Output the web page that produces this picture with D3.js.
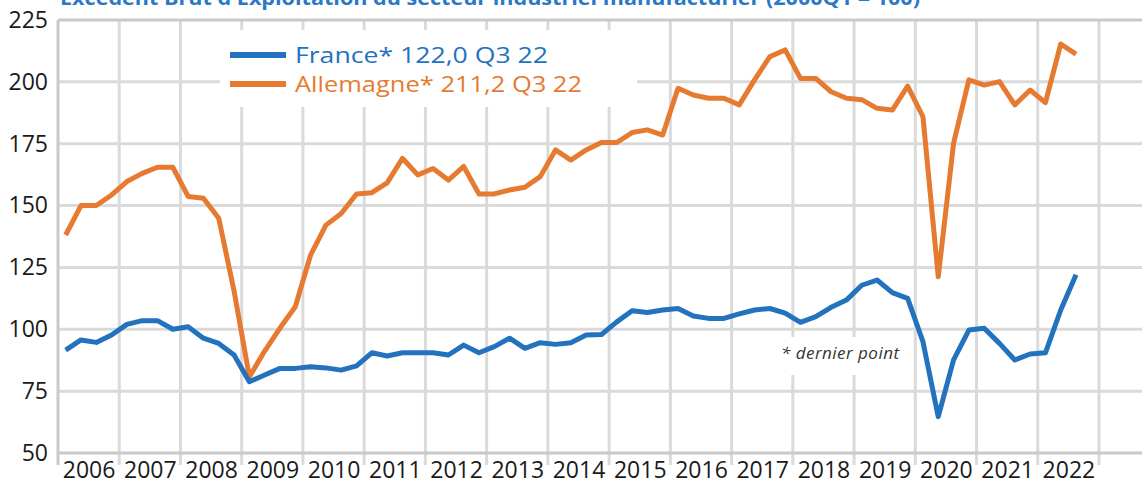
<!DOCTYPE html>
<html>
<head>
<meta charset="utf-8">
<script src="https://cdn.jsdelivr.net/npm/d3@7"></script>
<style>
  html, body { margin: 0; padding: 0; background: #fff; }
  #chart { width: 1142px; height: 490px; }
  text { font-family: "Open Sans", "Noto Sans", sans-serif; }
</style>
</head>
<body>
<div id="chart"></div>
<script>
/*
 *  DATA (quarterly, first point = 2006Q1, last = 2022Q3)
 */
var title = "Excédent Brut d'Exploitation du secteur industriel manufacturier (2000Q1 = 100)";
var years = [2006, 2007, 2008, 2009, 2010, 2011, 2012, 2013, 2014, 2015, 2016, 2017, 2018, 2019, 2020, 2021, 2022];
var yTicks = [50, 75, 100, 125, 150, 175, 200, 225];

var france = [
  91.6, 95.7, 94.7, 97.7, 102.0, 103.5, 103.5, 100.0,
  101.0, 96.4, 94.3, 89.6, 78.8, 81.5, 84.2, 84.2,
  84.9, 84.4, 83.5, 85.2, 90.5, 89.2, 90.5, 90.5,
  90.5, 89.6, 93.6, 90.5, 93.0, 96.4, 92.3, 94.6,
  93.9, 94.6, 97.7, 97.9, 103.0, 107.5, 106.8, 107.8,
  108.4, 105.4, 104.4, 104.4, 106.2, 107.8, 108.4, 106.5,
  102.8, 105.1, 108.9, 111.8, 117.8, 119.9, 114.8, 112.5,
  95.0, 64.7, 87.6, 99.7, 100.4, 94.3, 87.6, 90.0,
  90.5, 107.8, 122.0
];
var allemagne = [
  138.1, 150.0, 150.0, 154.3, 159.7, 163.0, 165.5, 165.5,
  153.7, 153.0, 144.9, 115.5, 80.8, 91.2, 100.5, 109.1,
  130.0, 142.1, 146.8, 154.7, 155.2, 159.2, 169.1, 162.4,
  165.0, 160.3, 165.8, 154.7, 154.7, 156.3, 157.4, 161.7,
  172.5, 168.4, 172.5, 175.5, 175.5, 179.5, 180.6, 178.5,
  197.4, 194.7, 193.4, 193.4, 190.7, 200.8, 210.2, 212.9,
  201.4, 201.4, 196.0, 193.4, 192.8, 189.3, 188.6, 198.3,
  185.9, 121.2, 175.2, 200.8, 198.7, 200.1, 190.7, 196.7,
  191.6, 215.3, 211.2
];
var legendLabels = ["France* 122,0 Q3 22", "Allemagne* 211,2 Q3 22"];
var note = "* dernier point";

/*
 *  LAYOUT
 */
var view_width = 1142, view_height = 490;
var plot = {left: 58, right: 1099, top: 20, bottom: 453};
var blue = "#2372be", orange = "#e67a30", grid = "#dadada", axisCol = "#c9c9cd";

var x_scale = d3.scaleLinear()
    .domain([2006, 2023])
    .range([plot.left, plot.right]);
var y_scale = d3.scaleLinear()
    .domain([50, 225])
    .range([plot.bottom, plot.top]);

function qx(i) { return x_scale(2006 + (i + 0.5) / 4); }

var svg = d3.select("#chart")
    .append("svg")
        .attr("width", view_width)
        .attr("height", view_height);

// title, mostly cut off by the top edge (as in the source image)
svg.append("text")
    .attr("x", 60)
    .attr("y", 5)
    .attr("fill", "#2a78c6")
    .attr("font-weight", "bold")
    .attr("font-size", 19)
    .attr("textLength", 860)
    .attr("lengthAdjust", "spacingAndGlyphs")
    .text(title);

// horizontal gridlines
svg.append("g")
    .selectAll("line")
    .data(yTicks.slice(1, -1))
    .enter().append("line")
        .attr("x1", plot.left).attr("x2", view_width)
        .attr("y1", function(d) { return y_scale(d); })
        .attr("y2", function(d) { return y_scale(d); })
        .attr("stroke", grid)
        .attr("stroke-width", 3);

// vertical gridlines at year boundaries (extend below axis as ticks)
svg.append("g")
    .selectAll("line")
    .data(d3.range(2007, 2024))
    .enter().append("line")
        .attr("x1", function(d) { return x_scale(d); })
        .attr("x2", function(d) { return x_scale(d); })
        .attr("y1", plot.top).attr("y2", plot.bottom + 12)
        .attr("stroke", grid)
        .attr("stroke-width", 3);

// frame: top line, left axis, bottom axis
svg.append("line")
    .attr("x1", plot.left).attr("x2", view_width)
    .attr("y1", y_scale(225)).attr("y2", y_scale(225))
    .attr("stroke", axisCol).attr("stroke-width", 3);
svg.append("line")
    .attr("x1", plot.left).attr("x2", view_width)
    .attr("y1", y_scale(50)).attr("y2", y_scale(50))
    .attr("stroke", axisCol).attr("stroke-width", 3);
svg.append("line")
    .attr("x1", plot.left).attr("x2", plot.left)
    .attr("y1", plot.top).attr("y2", plot.bottom + 12)
    .attr("stroke", axisCol).attr("stroke-width", 3);

// y labels
var yAxis = svg.append("g")
    .attr("class", "axis axis--y")
    .attr("transform", "translate(" + (plot.left - 10) + ",0)")
    .call(d3.axisLeft(y_scale).tickValues(yTicks).tickSize(0).tickPadding(0));
yAxis.select(".domain").remove();
yAxis.selectAll("text")
    .attr("font-size", 23)
    .attr("fill", "#1a1a1a")
    .attr("font-family", "\"Open Sans\", sans-serif");

// x labels, centred in each year
var xAxis = svg.append("g")
    .attr("class", "axis axis--x")
    .attr("transform", "translate(0," + (plot.bottom + 3) + ")")
    .call(d3.axisBottom(x_scale)
        .tickValues(years.map(function(y) { return y + 0.5; }))
        .tickFormat(function(d) { return String(Math.floor(d)); })
        .tickSize(0).tickPadding(6));
xAxis.select(".domain").remove();
xAxis.selectAll("text")
    .attr("font-size", 23)
    .attr("fill", "#1a1a1a")
    .attr("font-family", "\"Open Sans\", sans-serif");

// white boxes behind legend and note
svg.append("rect")
    .attr("x", 220).attr("y", 30).attr("width", 417).attr("height", 77)
    .attr("fill", "#fff");
svg.append("rect")
    .attr("x", 775).attr("y", 337).attr("width", 130).attr("height", 38)
    .attr("fill", "#fff");

// series lines
var line = d3.line()
    .x(function(d, i) { return qx(i); })
    .y(function(d) { return y_scale(d); });

[[allemagne, orange], [france, blue]].forEach(function(s) {
    svg.append("path")
        .datum(s[0])
        .attr("fill", "none")
        .attr("stroke", s[1])
        .attr("stroke-width", 5)
        .attr("stroke-linejoin", "round")
        .attr("d", line);
});

// legend
var legend = svg.append("g");
[[legendLabels[0], blue, 55, 253], [legendLabels[1], orange, 84, 287]].forEach(function(l) {
    legend.append("line")
        .attr("x1", 230).attr("x2", 286)
        .attr("y1", l[2]).attr("y2", l[2])
        .attr("stroke", l[1]).attr("stroke-width", 6);
    legend.append("text")
        .attr("x", 295).attr("y", l[2] + 8)
        .attr("fill", l[1])
        .attr("font-size", 21)
        .attr("textLength", l[3])
        .attr("lengthAdjust", "spacingAndGlyphs")
        .text(l[0]);
});

// note
svg.append("text")
    .attr("x", 781).attr("y", 359)
    .attr("fill", "#333")
    .attr("font-size", 17)
    .attr("font-style", "italic")
    .attr("textLength", 118)
    .text(note);
</script>
</body>
</html>
